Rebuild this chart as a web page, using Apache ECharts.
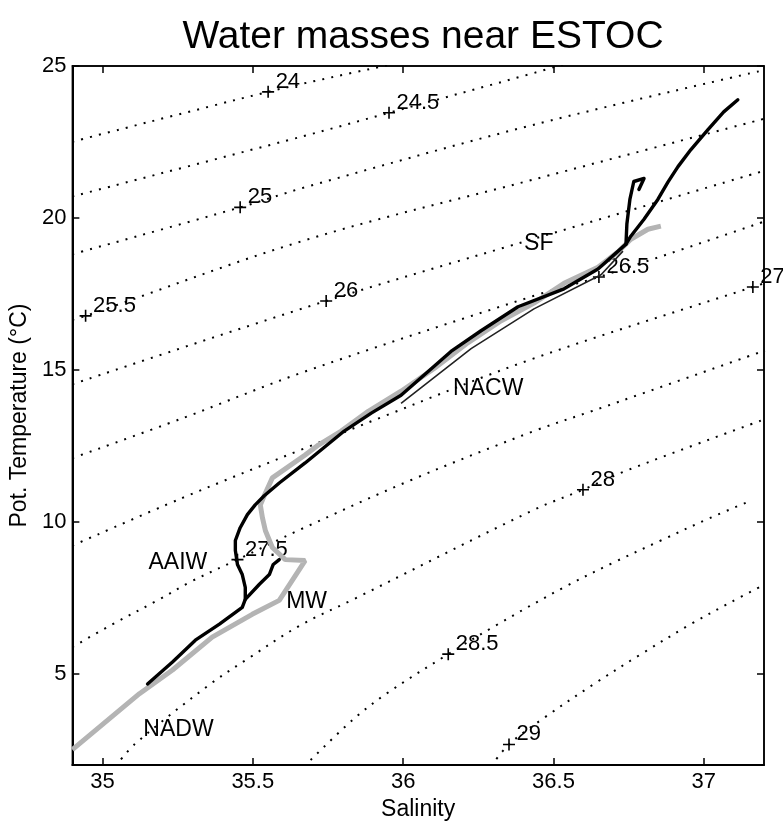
<!DOCTYPE html>
<html>
<head>
<meta charset="utf-8">
<title>Water masses near ESTOC</title>
<script src="https://cdn.jsdelivr.net/npm/echarts@6/dist/echarts.min.js"></script>
<style>
  html, body { margin: 0; padding: 0; background: #fff; }
  #chart { width: 783px; height: 826px; }
</style>
</head>
<body>
<div id="chart"></div>
<script>
// Axis ticks
const salinityTicks = [35, 35.5, 36, 36.5, 37];
const temperatureTicks = [5, 10, 15, 20, 25];

// Isopycnals [salinity, potential temperature]
const sigma240 = [[34.90, 22.51], [35.551, 24.15], [35.827, 24.77], [35.937, 25.0], [36.027, 25.2]];
const sigma245 = [[34.90, 20.71], [35.664, 22.68], [35.953, 23.46], [36.435, 24.77], [36.558, 25.13]];
const sigma250 = [[34.90, 18.81], [35.458, 20.35], [35.674, 21.01], [36.435, 23.07], [37.203, 24.87]];
const sigma255 = [[34.90, 16.65], [34.944, 16.78], [35.674, 19.27], [36.435, 21.27], [37.203, 23.27]];
const sigma260 = [[34.90, 14.53], [35.744, 17.27], [36.375, 19.14], [37.203, 21.56]];
const sigma265 = [[34.90, 12.10], [35.266, 13.41], [35.674, 14.95], [36.435, 17.44], [36.651, 18.06], [37.203, 19.89]];
const sigma270 = [[34.90, 9.22], [35.266, 10.79], [35.674, 12.43], [35.937, 13.48], [36.435, 15.38], [37.163, 17.73], [37.203, 17.86]];
const sigma275 = [[34.90, 5.88], [35.027, 6.60], [35.189, 7.45], [35.289, 8.01], [35.449, 8.76], [35.658, 9.75],
                  [36.027, 11.38], [36.435, 12.99], [36.635, 13.67], [37.203, 15.64]];
const sigma280 = [[35.043, 1.96], [35.110, 2.71], [35.355, 4.64], [35.482, 5.49], [35.658, 6.60], [35.834, 7.45],
                  [36.435, 10.40], [36.598, 11.06], [36.748, 11.71], [37.203, 13.38]];
const sigma285 = [[35.671, 1.96], [35.837, 3.53], [35.953, 4.41], [36.150, 5.65], [36.316, 6.64], [36.535, 7.85],
                  [36.701, 8.67], [36.857, 9.39], [37.023, 10.14], [37.156, 10.70]];
const sigma290 = [[36.292, 1.96], [36.352, 2.68], [36.465, 3.53], [36.635, 4.67], [36.791, 5.65], [36.957, 6.64],
                  [37.090, 7.36], [37.203, 7.95]];
const isopycnals = [sigma240, sigma245, sigma250, sigma255, sigma260, sigma265,
                    sigma270, sigma275, sigma280, sigma285, sigma290];

// Contour labels and the points they mark
const sigmaLabels = ['24', '24.5', '25', '25.5', '26', '26.5', '27', '27.5', '28', '28.5', '29'];
const sigmaMarks = [[35.551, 24.15], [35.953, 23.46], [35.458, 20.35], [34.944, 16.78], [35.744, 17.27],
                    [36.651, 18.06], [37.163, 17.73], [35.449, 8.76], [36.598, 11.06], [36.150, 5.65], [36.352, 2.68]];

// Station profiles
const profileGray = [[34.900, 2.51], [35.123, 4.35], [35.233, 5.13], [35.365, 6.21], [35.498, 6.96], [35.588, 7.42],
  [35.674, 8.73], [35.608, 8.76], [35.565, 9.16], [35.542, 9.71], [35.532, 10.14], [35.525, 10.56], [35.538, 10.86],
  [35.565, 11.45], [35.674, 12.20], [35.718, 12.53], [35.794, 12.99], [35.884, 13.64], [35.993, 14.30],
  [36.103, 15.05], [36.216, 15.90], [36.326, 16.62], [36.435, 17.20], [36.535, 17.85], [36.648, 18.38],
  [36.714, 18.88], [36.757, 19.30], [36.814, 19.63], [36.857, 19.73]];
const profileMain = [[35.150, 4.67], [35.233, 5.39], [35.309, 6.11], [35.389, 6.64], [35.465, 7.19], [35.475, 7.45],
  [35.475, 7.85], [35.465, 8.27], [35.449, 8.60], [35.442, 9.06], [35.442, 9.39], [35.458, 9.81], [35.482, 10.24],
  [35.508, 10.56], [35.538, 10.86], [35.588, 11.28], [35.674, 11.94], [35.804, 12.99], [35.894, 13.58],
  [35.993, 14.17], [36.159, 15.61], [36.259, 16.29], [36.382, 17.08], [36.535, 17.67], [36.648, 18.32],
  [36.741, 19.14], [36.757, 19.40], [36.801, 19.96], [36.847, 20.61], [36.880, 21.17], [36.914, 21.69],
  [36.957, 22.25], [37.013, 22.90], [37.066, 23.49], [37.113, 23.89]];
const profileHook = [[36.741, 19.14], [36.744, 19.80], [36.754, 20.61], [36.767, 21.20], [36.801, 21.30], [36.784, 20.94]];
const profileMW = [[35.475, 7.45], [35.522, 7.95], [35.555, 8.27], [35.568, 8.60], [35.588, 8.76]];
const profileThin = [[35.993, 13.90], [36.226, 15.70], [36.435, 17.01], [36.658, 18.13], [36.731, 18.91]];

// Water mass names and where they are written
const waterMassNames = ['SF', 'NACW', 'AAIW', 'MW', 'NADW'];
const waterMassAt = [[36.402, 19.14], [36.166, 14.39], [35.153, 8.67], [35.611, 7.39], [35.136, 3.17]];

const FONT = '"Liberation Sans", Arial, Helvetica, sans-serif';

const series = [];
isopycnals.forEach(function (line) {
  series.push({
    type: 'line', data: line, smooth: 0.35, symbol: 'none', silent: true, z: 2,
    lineStyle: { color: '#000', width: 2, type: [2, 7.2] }
  });
});
series.push({
  type: 'scatter', data: sigmaMarks, z: 2, silent: true,
  symbol: 'path://M0,6L12,6M6,0L6,12', symbolSize: 12,
  itemStyle: { color: 'none', borderColor: '#000', borderWidth: 1.6, opacity: 1 },
  label: {
    show: true, position: 'right', distance: 0, offset: [-1, -10],
    formatter: function (p) { return sigmaLabels[p.dataIndex]; },
    fontSize: 22, fontFamily: FONT, color: '#000'
  }
});
series.push({
  type: 'line', data: profileGray, symbol: 'none', silent: true, z: 3,
  lineStyle: { color: '#b4b4b4', width: 5 }
});
series.push({
  type: 'line', data: profileThin, symbol: 'none', silent: true, z: 4,
  lineStyle: { color: '#222', width: 1.6 }
});
[profileMain, profileHook, profileMW].forEach(function (p) {
  series.push({
    type: 'line', data: p, symbol: 'none', silent: true, z: 4,
    lineStyle: { color: '#000', width: 3.4, cap: 'round', join: 'round' }
  });
});
series.push({
  type: 'scatter', data: waterMassAt, symbol: 'circle', symbolSize: 1, silent: true, z: 5,
  itemStyle: { color: 'rgba(255,255,255,0)', opacity: 1 },
  label: {
    show: true, position: 'inside', align: 'left', verticalAlign: 'middle',
    formatter: function (p) { return waterMassNames[p.dataIndex]; },
    fontSize: 23, fontFamily: FONT, color: '#000'
  }
});

const axisCommon = {
  type: 'value', splitLine: { show: false },
  axisLine: { show: true, onZero: false, lineStyle: { color: '#000', width: 2 } }
};

const chart = echarts.init(document.getElementById('chart'), null, { renderer: 'canvas' });
chart.setOption({
  animation: false,
  backgroundColor: '#fff',
  title: {
    text: 'Water masses near ESTOC',
    left: 418, top: 13, textAlign: 'center',
    textStyle: { fontSize: 39, fontWeight: 'normal', fontFamily: FONT, color: '#000' }
  },
  grid: { left: 71, right: 19, top: 66, bottom: 59, show: true, borderColor: '#000', borderWidth: 1.5 },
  xAxis: [
    Object.assign({}, axisCommon, {
      min: 34.9, max: 37.2, position: 'bottom',
      name: 'Salinity', nameLocation: 'middle', nameGap: 30,
      nameTextStyle: { fontSize: 23, fontFamily: FONT, color: '#000' },
      axisTick: { show: true, inside: true, length: 7, customValues: salinityTicks, lineStyle: { color: '#000', width: 1.5 } },
      axisLabel: { customValues: salinityTicks, fontSize: 22, fontFamily: FONT, color: '#000', margin: 6 }
    }),
    Object.assign({}, axisCommon, {
      min: 34.9, max: 37.2, position: 'top',
      axisLine: { show: true, onZero: false, lineStyle: { color: '#000', width: 1.5 } },
      axisTick: { show: true, inside: true, length: 7, customValues: salinityTicks, lineStyle: { color: '#000', width: 1.5 } },
      axisLabel: { show: false }
    })
  ],
  yAxis: [
    Object.assign({}, axisCommon, {
      min: 2, max: 25, position: 'left',
      name: 'Pot. Temperature (°C)', nameLocation: 'middle', nameGap: 40,
      nameTextStyle: { fontSize: 23, fontFamily: FONT, color: '#000' },
      axisTick: { show: true, inside: true, length: 7, customValues: temperatureTicks, lineStyle: { color: '#000', width: 1.5 } },
      axisLabel: { customValues: temperatureTicks, fontSize: 22, fontFamily: FONT, color: '#000', margin: 6 }
    }),
    Object.assign({}, axisCommon, {
      min: 2, max: 25, position: 'right',
      axisLine: { show: true, onZero: false, lineStyle: { color: '#000', width: 1.5 } },
      axisTick: { show: true, inside: true, length: 7, customValues: temperatureTicks, lineStyle: { color: '#000', width: 1.5 } },
      axisLabel: { show: false }
    })
  ],
  series: series
});
</script>
</body>
</html>
